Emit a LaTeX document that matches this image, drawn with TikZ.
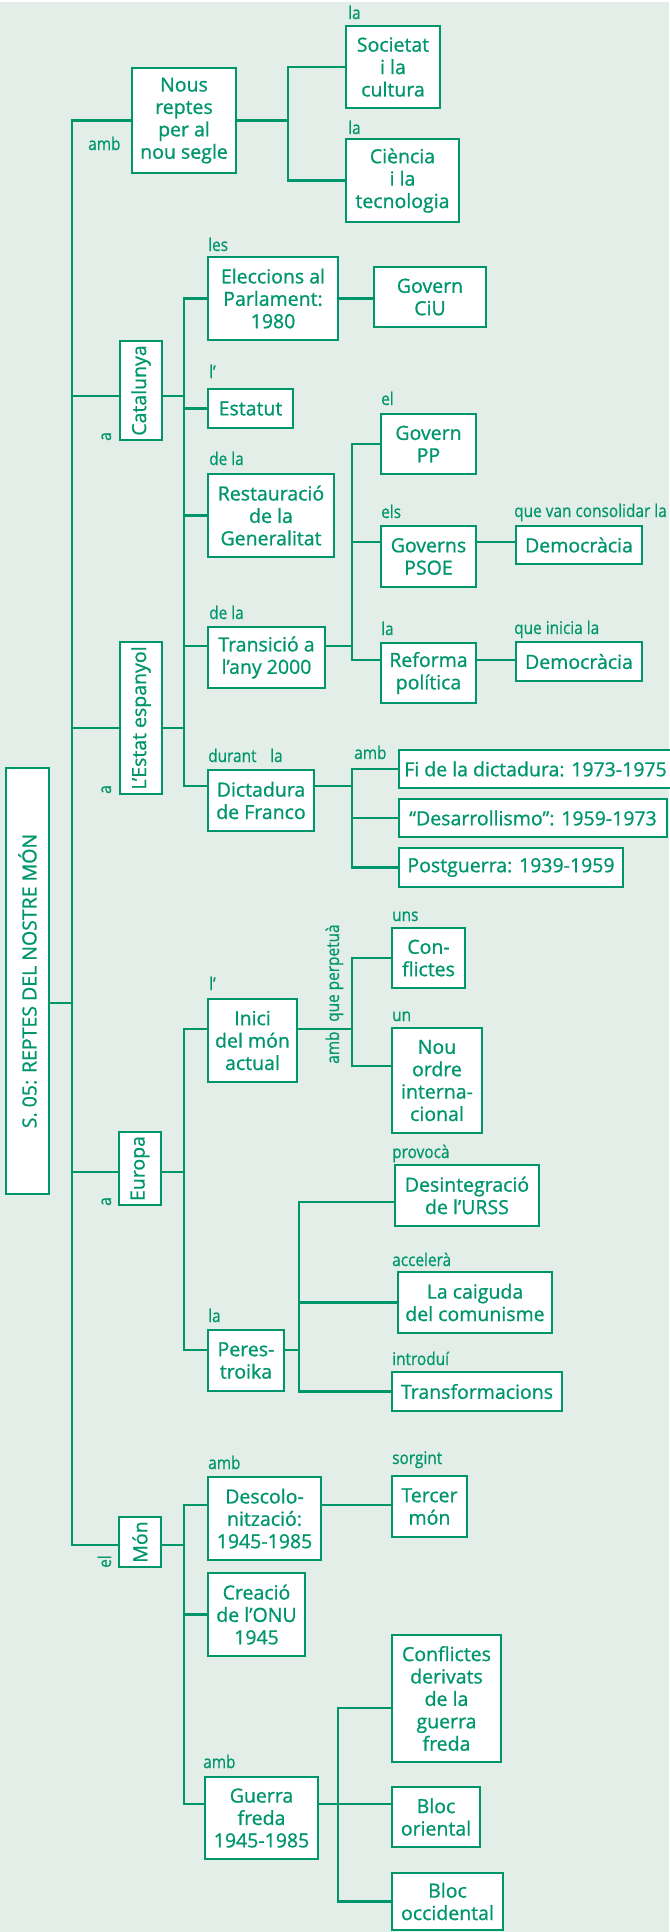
\documentclass[tikz,border=0pt]{standalone}
\usepackage{fontspec}
\setmainfont{Open Sans}[FakeBold=0.9]
\newfontfamily\lblfont[FakeStretch=0.88,FakeBold=0.7]{Open Sans}
\usetikzlibrary{backgrounds}
\definecolor{gr}{RGB}{0,150,108}
\definecolor{bgc}{RGB}{228,238,232}
\tikzset{
  box/.style={draw=gr, fill=white, line width=2.5pt, inner sep=0pt, align=center, text=gr, font=\fontsize{19.5}{22.4}\selectfont},
  rot/.style={rotate=90, text=gr, inner sep=0pt, font=\fontsize{19.5}{22.4}\selectfont},
  lbl/.style={text=gr, inner sep=0pt, anchor=base west, font=\lblfont\fontsize{17.5}{20}\selectfont},
  con/.style={draw=gr, line width=2.5pt, line cap=rect, line join=miter},
}
\newcommand\mybox[6]{\node[box, minimum width={(#4-#2)*1pt}, minimum height={(#5-#3)*1pt}] (#1) at ({(#2+#4)/2},{(#3+#5)/2}) {#6};}
\newcommand\myrbox[6]{\mybox{#1}{#2}{#3}{#4}{#5}{}\node[rot] (#1t) at (#1) {#6};}
\begin{document}
\begin{tikzpicture}[x=1pt,y=-1pt]
\useasboundingbox (0,0) rectangle (669,1932);
% ---------- boxes
\myrbox{title}{6}{768}{49}{1194}{S. 05: REPTES DEL NOSTRE MÓN}
\mybox{nous}{132}{68}{236}{173}{Nous\\reptes\\per al\\nou segle}
\mybox{soc}{346}{26}{440}{108}{Societat\\i la\\cultura}
\mybox{cien}{346}{139}{459}{222}{Ciència\\i la\\tecnologia}
\mybox{elec}{208}{257}{338}{340}{Eleccions al\\Parlament:\\1980}
\mybox{ciu}{374}{267}{486}{327}{Govern\\CiU}
\myrbox{cat}{120}{341}{162}{440}{Catalunya}
\mybox{estat}{208}{389}{293}{428}{Estatut}
\mybox{rest}{208}{474}{334}{557}{Restauració\\de la\\Generalitat}
\mybox{pp}{381}{414}{476}{474}{Govern\\PP}
\mybox{psoe}{381}{526}{476}{587}{Governs\\PSOE}
\mybox{dem1}{516}{526}{642}{564}{Democràcia}
\mybox{trans}{208}{627}{325}{688}{Transició a\\l’any 2000}
\mybox{ref}{381}{643}{476}{703}{Reforma\\política}
\mybox{dem2}{516}{642}{642}{681}{Democràcia}
\myrbox{esp}{120}{642}{162}{794}{L’Estat espanyol}
\mybox{dict}{208}{770}{314}{831}{Dictadura\\de Franco}
\mybox{fi}{399}{750}{672}{788}{Fi de la dictadura: 1973-1975}
\mybox{desa}{399}{799}{667}{837}{“Desarrollismo”: 1959-1973}
\mybox{post}{399}{848}{623}{887}{Postguerra: 1939-1959}
\mybox{conf}{392}{928}{465}{988}{Con-\\flictes}
\mybox{inici}{208}{999}{297}{1082}{Inici\\del món\\actual}
\mybox{nou}{392}{1028}{482}{1133}{Nou\\ordre\\interna-\\cional}
\myrbox{eur}{119}{1132}{161}{1205}{Europa}
\mybox{desi}{395}{1165}{539}{1226}{Desintegració\\de l’URSS}
\mybox{caig}{398}{1272}{552}{1333}{La caiguda\\del comunisme}
\mybox{pere}{208}{1330}{284}{1391}{Peres-\\troika}
\mybox{transf}{392}{1372}{562}{1411}{Transformacions}
\myrbox{mon}{119}{1517}{161}{1567}{Món}
\mybox{desc}{208}{1477}{321}{1560}{Descolo-\\nització:\\1945-1985}
\mybox{terc}{392}{1476}{467}{1537}{Tercer\\món}
\mybox{onu}{208}{1573}{305}{1656}{Creació\\de l’ONU\\1945}
\mybox{cder}{392}{1635}{501}{1762}{Conflictes\\derivats\\de la\\guerra\\freda}
\mybox{guer}{205}{1777}{318}{1859}{Guerra\\freda\\1945-1985}
\mybox{bor}{392}{1787}{480}{1847}{Bloc\\oriental}
\mybox{boc}{392}{1873}{503}{1930}{Bloc\\occidental}
% ---------- labels
\node[lbl] (l1) at (348,19) {la};
\node[lbl] (l2) at (348,134) {la};
\node[lbl] (l3) at (88,150) {amb};
\node[lbl] (l4) at (208,251) {les};
\node[lbl] (l5) at (209,378) {l’};
\node[lbl] (l6) at (209,465) {de la};
\node[lbl] (l7) at (381,405) {el};
\node[lbl] (l8) at (381,518) {els};
\node[lbl] (l9) at (514,517) {que van consolidar la};
\node[lbl] (l10) at (209,619) {de la};
\node[lbl] (l11) at (381,635) {la};
\node[lbl] (l12) at (514,634) {que inicia la};
\node[lbl] (l13) at (208,762) {durant};
\node[lbl] (l14) at (270,762) {la};
\node[lbl] (l15) at (354,759) {amb};
\node[lbl] (l16) at (392,921) {uns};
\node[lbl,rotate=90] (l17) at (339,1022) {que perpetuà};
\node[lbl,rotate=90] (l18) at (339,1064) {amb};
\node[lbl] (l19) at (209,990) {l’};
\node[lbl] (l20) at (392,1021) {un};
\node[lbl] (l21) at (392,1158) {provocà};
\node[lbl] (l22) at (392,1266) {accelerà};
\node[lbl] (l23) at (208,1322) {la};
\node[lbl] (l24) at (392,1365) {introduí};
\node[lbl] (l25) at (208,1469) {amb};
\node[lbl] (l26) at (392,1464) {sorgint};
\node[lbl] (l27) at (203,1768) {amb};
\node[lbl,rotate=90] (l28) at (111,441) {a};
\node[lbl,rotate=90] (l29) at (111,794) {a};
\node[lbl,rotate=90] (l30) at (111,1206) {a};
\node[lbl,rotate=90] (l31) at (111,1568) {el};
% ---------- connectors (behind the boxes)
\begin{pgfonlayer}{background}
\fill[white] (0,0) rectangle (669,1932);
\fill[bgc] (0,2) rectangle (669,1932);
\coordinate (mb) at (72,120.5);
\coordinate (j1) at (288,0);
\coordinate (jc) at (184,0);
\coordinate (j2) at (352,0);
\coordinate (j3) at (299,0);
\coordinate (j4) at (338,0);
\path ([yshift=-22pt]title.east) coordinate (titleR)
      ([yshift=-5.5pt]cat.west) coordinate (catL) ([yshift=-5.5pt]cat.east) coordinate (catR)
      ([yshift=-10pt]esp.west) coordinate (espL) ([yshift=-10pt]esp.east) coordinate (espR)
      ([yshift=-3.5pt]eur.west) coordinate (eurL) ([yshift=-3.5pt]eur.east) coordinate (eurR)
      ([yshift=-3pt]mon.west) coordinate (monL) ([yshift=-3pt]mon.east) coordinate (monR)
      ([yshift=14.5pt]psoe.west) coordinate (psoeL) ([yshift=14.5pt]psoe.east) coordinate (psoeR)
      ([yshift=11.5pt]trans.west) coordinate (tL) ([yshift=11.5pt]trans.east) coordinate (tR)
      ([yshift=13pt]ref.west) coordinate (refL) ([yshift=13pt]ref.east) coordinate (refR)
      ([yshift=14.5pt]dict.west) coordinate (dictL) ([yshift=14.5pt]dict.east) coordinate (dictR)
      ([yshift=11.5pt]inici.west) coordinate (iniL) ([yshift=11.5pt]inici.east) coordinate (iniR)
      ([yshift=14.5pt]nou.west) coordinate (nouL)
      ([yshift=-6.5pt]desi.west) coordinate (desiL)
      ([yshift=10.5pt]pere.west) coordinate (pereL) ([yshift=10.5pt]pere.east) coordinate (pereR)
      ([yshift=13.5pt]desc.west) coordinate (descL) ([yshift=13.5pt]desc.east) coordinate (descR)
      ([yshift=14pt]guer.west) coordinate (guerL) ([yshift=14pt]guer.east) coordinate (guerR)
      ([yshift=-9.5pt]cder.west) coordinate (cderL);
% main bar
\draw[con] (mb) |- (monL);
\draw[con] (mb) -- (nous.west);
\draw[con] (titleR) -- (titleR -| mb);
\draw[con] (catL -| mb) -- (catL);
\draw[con] (espL -| mb) -- (espL);
\draw[con] (eurL -| mb) -- (eurL);
% nous reptes
\draw[con] (nous.east) -- (nous.east -| j1);
\draw[con] (soc.west) -| (j1 |- cien.west) -- (cien.west);
% Catalunya / Estat espanyol
\draw[con] (catR) -- (catR -| jc);
\draw[con] (espR) -- (espR -| jc);
\draw[con] (elec.west) -| (jc |- dictL) -- (dictL);
\draw[con] (estat.west -| jc) -- (estat.west);
\draw[con] (rest.west -| jc) -- (rest.west);
\draw[con] (tL -| jc) -- (tL);
\draw[con] (elec.east) -- (elec.east -| ciu.west);
\draw[con] (tR) -- (tR -| j2);
\draw[con] (pp.west) -| (j2 |- refL) -- (refL);
\draw[con] (psoeL -| j2) -- (psoeL);
\draw[con] (psoeR) -- (psoeR -| dem1.west);
\draw[con] (refR) -- (refR -| dem2.west);
\draw[con] (dictR) -- (dictR -| j2);
\draw[con] (fi.west) -| (j2 |- post.west) -- (post.west);
\draw[con] (desa.west -| j2) -- (desa.west);
% Europa
\draw[con] (eurR) -- (eurR -| jc);
\draw[con] (iniL) -| (jc |- pereL) -- (pereL);
\draw[con] (iniR) -- (iniR -| j2);
\draw[con] (conf.west) -| (j2 |- nouL) -- (nouL);
\draw[con] (pereR) -- (pereR -| j3);
\draw[con] (desiL) -| (j3 |- transf.west) -- (transf.west);
\draw[con] (caig.west -| j3) -- (caig.west);
% Mon
\draw[con] (monR) -- (monR -| jc);
\draw[con] (descL) -| (jc |- guerL) -- (guerL);
\draw[con] (descR) -- (descR -| terc.west);
\draw[con] (onu.west -| jc) -- (onu.west);
\draw[con] (guerR) -- (guerR -| bor.west);
\draw[con] (cderL) -| (j4 |- boc.west) -- (boc.west);
\end{pgfonlayer}
\end{tikzpicture}
\end{document}
